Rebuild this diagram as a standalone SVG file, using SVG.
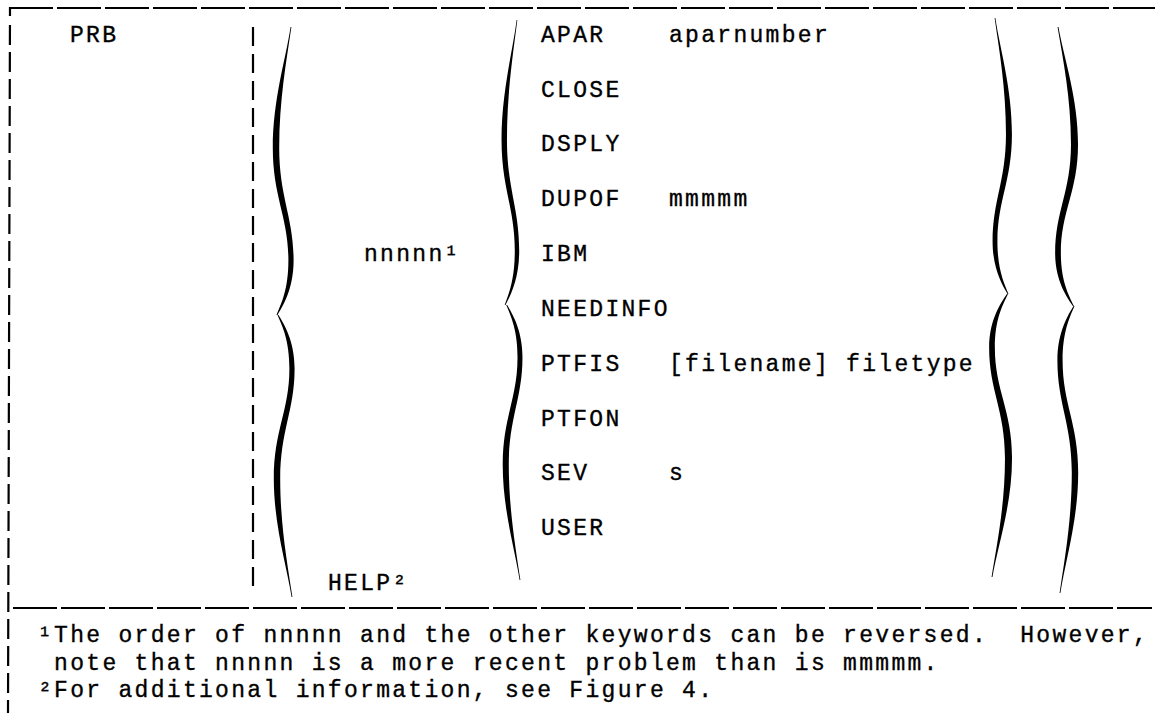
<svg xmlns="http://www.w3.org/2000/svg" xmlns:xlink="http://www.w3.org/1999/xlink" width="1155" height="715" viewBox="0 0 1155 715">
<style>
  .t { font-family: "Liberation Mono", "DejaVu Sans Mono", monospace; font-size: 23px; letter-spacing: 2.3px; fill: #000; stroke: #000; stroke-width: 0.35; white-space: pre; }
  .frame { stroke: #000; stroke-width: 2.2; fill: none; }
  .brace { fill: #000; }
</style>
<defs>
  <path id="halfbrace" d="M -0.4,0 C -5.5,11.5 -18.2,25.5 -18.2,42 C -18.2,59 -2.6,66 -2.6,81 C -2.6,91 -9.6,96 -14.5,100 L -13.5,100 C -8.4,97 2.6,91 2.6,81 C 2.6,66 -11.8,59 -11.8,42 C -11.8,25.5 -4.5,11.5 0.4,0 Z"/>
</defs>
<rect x="0" y="0" width="1155" height="715" fill="#fff"/>

<g id="frame">
  <line class="frame" x1="9" y1="8" x2="1155" y2="8" stroke-dasharray="44 4"/>
  <line class="frame" x1="10" y1="7" x2="8" y2="713" stroke-width="2.8" stroke-dasharray="9 9 20 7 20 7 20 7 20 7 20 7 20 7 20 7 20 7 20 7 20 7 20 7 20 7 20 7 20 7 20 7 20 7 20 7 20 7 20 7 20 7 20 7 20 7 20 7 20 7 20 7 20 7 20 7 20 7 20 7"/>
  <line class="frame" x1="253" y1="27" x2="253" y2="592" stroke-width="2.8" stroke-dasharray="19 8"/>
  <line class="frame" x1="13" y1="608" x2="1152" y2="608" stroke-dasharray="44 4"/>
</g>

<g id="braces">
  <use class="brace" href="#halfbrace" transform="translate(291,27) scale(1,2.88)"/>
  <use class="brace" href="#halfbrace" transform="translate(292,597) scale(1,-2.82)"/>
  <use class="brace" href="#halfbrace" transform="translate(517,20) scale(0.85,2.85)"/>
  <use class="brace" href="#halfbrace" transform="translate(520,580) scale(0.95,-2.75)"/>
  <use class="brace" href="#halfbrace" transform="translate(995,18) scale(-0.93,2.76)"/>
  <use class="brace" href="#halfbrace" transform="translate(992,577) scale(-1.1,-2.83)"/>
  <use class="brace" href="#halfbrace" transform="translate(1058,27) scale(-1.1,2.79)"/>
  <use class="brace" href="#halfbrace" transform="translate(1060,593) scale(-1,-2.87)"/>
</g>

<g id="left-column">
  <text class="t" x="70" y="42">PRB</text>
  <text class="t" x="364" y="261">nnnnn¹</text>
  <text class="t" x="328" y="590">HELP²</text>
</g>

<g id="keywords">
  <text class="t" x="541" y="42">APAR</text>
  <text class="t" x="669" y="42">aparnumber</text>
  <text class="t" x="541" y="97">CLOSE</text>
  <text class="t" x="541" y="151">DSPLY</text>
  <text class="t" x="541" y="206">DUPOF</text>
  <text class="t" x="669" y="206">mmmmm</text>
  <text class="t" x="541" y="261">IBM</text>
  <text class="t" x="541" y="316">NEEDINFO</text>
  <text class="t" x="541" y="371">PTFIS</text>
  <text class="t" x="669" y="371">[filename] filetype</text>
  <text class="t" x="541" y="426">PTFON</text>
  <text class="t" x="541" y="480">SEV</text>
  <text class="t" x="669" y="480">s</text>
  <text class="t" x="541" y="535">USER</text>
</g>

<g id="footnotes">
  <text class="t" x="38" y="642" xml:space="preserve">¹The order of nnnnn and the other keywords can be reversed.  However,</text>
  <text class="t" x="54.1" y="670">note that nnnnn is a more recent problem than is mmmmm.</text>
  <text class="t" x="38" y="697">²For additional information, see Figure 4.</text>
</g>
</svg>
